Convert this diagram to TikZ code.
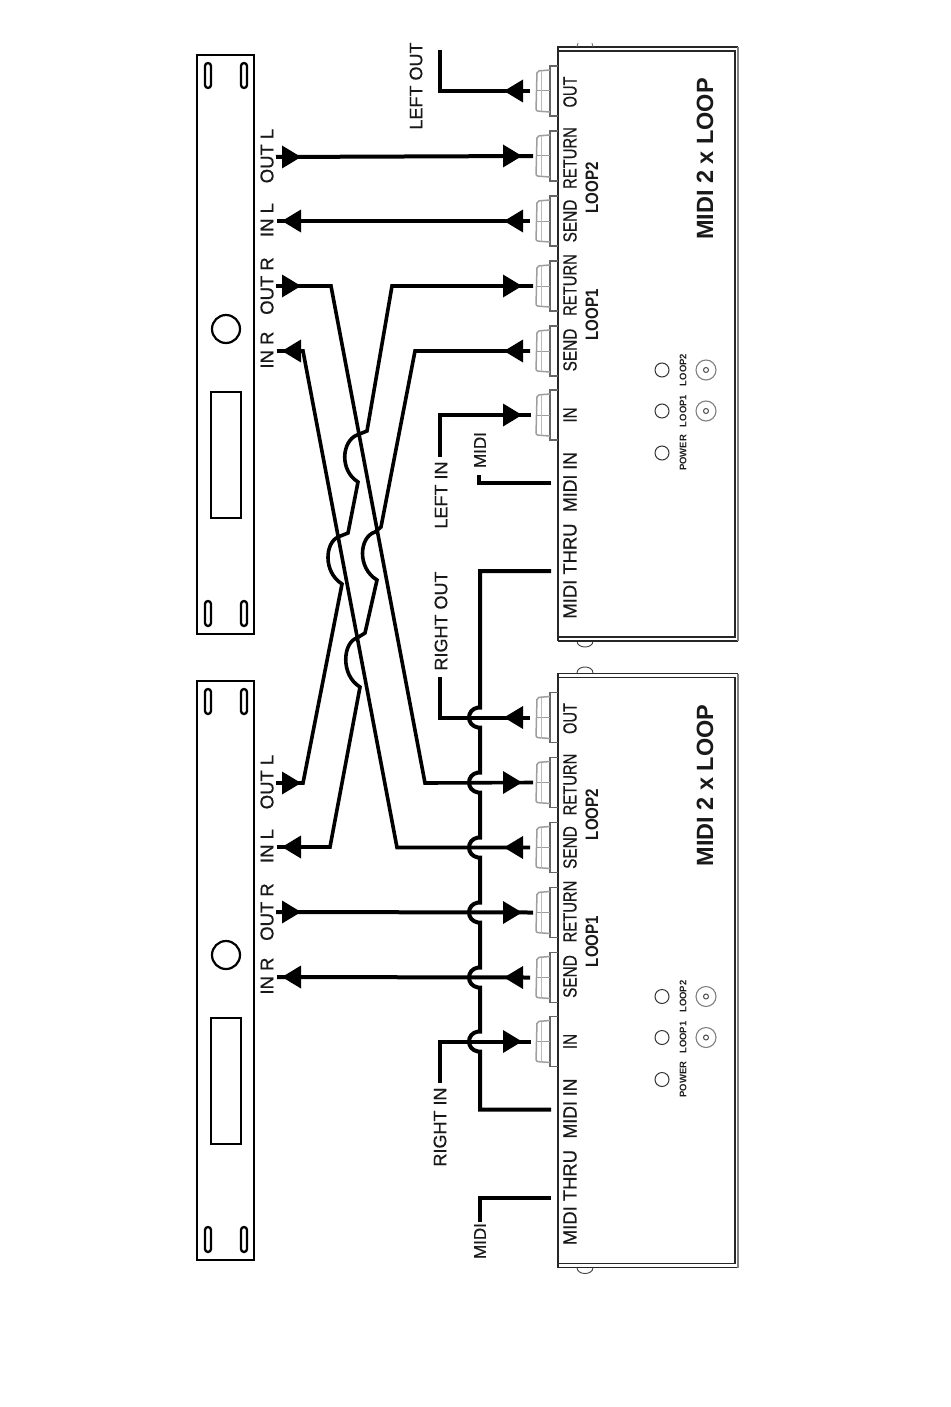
\documentclass[tikz,border=0pt]{standalone}
\usepackage{fontspec}
\usepackage{graphicx}
\setmainfont{Liberation Sans}
\newfontfamily\semib[FakeBold=0.6]{Liberation Sans}
\usetikzlibrary{calc}
\newcommand{\fs}[1]{\fontsize{#1}{#1}\selectfont}
\newcommand{\sx}[2]{\scalebox{#1}[1]{#2}}
\definecolor{jackgray}{gray}{0.4}
\definecolor{jacklight}{gray}{0.62}
\tikzset{
  wire/.style={line width=4pt,line join=miter,line cap=butt,black},
  lbl/.style={rotate=90,inner sep=0pt,anchor=center,text=black!90},
  panel/.style={font=\semib\fs{19}},
  rackbold/.style={font=\semib\fs{18.5}},
  extl/.style={font=\semib\fs{18}},
  tinyl/.style={font=\bfseries\fs{9.5}},
  tipleft/.pic={\fill[black] (-1,0)--(18,11.5)--(18,-11.5)--cycle;},
  tipright/.pic={\fill[black] (19,0)--(0,11.5)--(0,-11.5)--cycle;},
}
\newcommand{\jack}[2]{%
  \draw[jackgray,line width=1.3pt] (558,#1-25) -- (550,#1-25) -- (550,#1+25) -- (558,#1+25);
  \draw[jacklight,line width=1.5pt,rounded corners=2pt] (550,#1-21) -- (537,#1-20) -- (536,#1+20) -- (550,#1+21);
  \draw[jacklight,line width=1pt] (536,#1) -- (550,#1);
  \draw[jacklight!70,line width=1pt] (541,#1-20) -- (541,#1+20);
  \coordinate (#2) at (533,#1);
}
\newcommand{\device}[2]{%
 \begin{scope}[yshift=-#2pt]
  % bottom foot
  \draw[black!75,line width=.9pt] (577,641) .. controls (577,649) and (593,649) .. (593,641);
  % case
  \draw[black!85,line width=1.2pt] (558,641) -- (558,47) -- (738,47);
  \draw[black!85,line width=1.1pt] (558,51) -- (735,51) -- (735,637) -- (558,637);
  \draw[black!85,line width=1.1pt] (558,641) -- (738,641);
  \draw[black!50,line width=1.4pt] (738,47) -- (738,641);
  \jack{91}{#1oJ}\jack{156}{#1rbJ}\jack{221}{#1sbJ}\jack{286}{#1raJ}\jack{351}{#1saJ}\jack{415}{#1iJ}
  \coordinate (#1midiin) at (551,483);
  \coordinate (#1midithru) at (551,571);
  \node[lbl,panel] (#1t1) at (570,92) {\sx{.77}{OUT}};
  \node[lbl,panel] (#1t2) at (570,158) {\sx{.78}{RETURN}};
  \node[lbl,panel] (#1t3) at (570,221) {\sx{.81}{SEND}};
  \node[lbl,panel] (#1t4) at (570,285) {\sx{.78}{RETURN}};
  \node[lbl,panel] (#1t5) at (570,350) {\sx{.81}{SEND}};
  \node[lbl,panel] (#1t6) at (570,415) {\sx{.8}{IN}};
  \node[lbl,panel] (#1t7) at (570,482) {\sx{.93}{MIDI IN}};
  \node[lbl,panel] (#1t8) at (570,571) {\sx{.97}{MIDI THRU}};
  \node[lbl,font=\bfseries\fs{18}] (#1t9) at (592,188) {\sx{.84}{LOOP2}};
  \node[lbl,font=\bfseries\fs{18}] (#1t10) at (592,315) {\sx{.84}{LOOP1}};
  \node[lbl,font=\bfseries\fs{23.5}] (#1title) at (705,159) {MIDI 2 x LOOP};
  \draw[black!80,line width=1pt] (662,370) circle (7) (662,411) circle (7) (662,453) circle (7);
  \draw[black!50,line width=1.1pt] (706,370) circle (10) (706,411) circle (10);
  \draw[black!70,line width=1pt] (706,370) circle (2.5) (706,411) circle (2.5);
  \node[lbl,tinyl] (#1p1) at (683,370) {LOOP2};
  \node[lbl,tinyl] (#1p2) at (683,411) {LOOP1};
  \node[lbl,tinyl] (#1p3) at (683,453) {POWER};
  \pic at (505,91) {tipleft};
  \pic at (503,156) {tipright};
  \pic at (505,221) {tipleft};
  \pic at (503,286) {tipright};
  \pic at (505,351) {tipleft};
  \pic at (503,415) {tipright};
 \end{scope}}
\newcommand{\rack}[2]{%
 \begin{scope}[yshift=-#2pt]
  \draw[black,line width=2.8pt] (197,55) rectangle (254,634);
  \foreach \xx in {208,244}{\foreach \yy in {63,601}{
    \draw[black,line width=2.3pt,rounded corners=3pt] (\xx-3,\yy) rectangle (\xx+3,\yy+25);}}
  \draw[black,line width=2.2pt] (226,329) circle (14);
  \draw[black,line width=2.2pt] (211,392) rectangle (241,518);
  \coordinate (#1oL) at (276,157);
  \coordinate (#1iL) at (277,221);
  \coordinate (#1oR) at (276,286);
  \coordinate (#1iR) at (277,351);
  \node[lbl,rackbold] (#1a) at (267,156) {OUT L};
  \node[lbl,rackbold] (#1b) at (267,220) {IN L};
  \node[lbl,rackbold] (#1c) at (267,286) {OUT R};
  \node[lbl,rackbold] (#1d) at (267,350) {IN R};
  \pic at (282,157) {tipright};
  \pic at (283,221) {tipleft};
  \pic at (282,286) {tipright};
  \pic at (283,351) {tipleft};
 \end{scope}}
\newcommand{\bh}[1]{-- (480,#1-10) -- (478,#1-10) .. controls (466,#1-8) and (466,#1+8) .. (478,#1+10) -- (480,#1+10)}
\begin{document}
\begin{tikzpicture}[x=1pt,y=-1pt]
\useasboundingbox (0,0) rectangle (950,1407);
\fill[white] (0,0) rectangle (950,1407);
\rack{r1}{0}
\rack{r2}{626}
\device{a}{0}
\device{b}{626.5}
% upper feet
\draw[black!60,line width=.8pt] (577,47) -- (578,43) (593,47) -- (592,43);
\draw[black!75,line width=.9pt] (577,673) .. controls (577,665) and (593,665) .. (593,673);
% external labels
\node[lbl,extl] (lo) at (416,86) {LEFT OUT};
\node[lbl,extl] (li) at (441,495) {LEFT IN};
\node[lbl,extl] (ro) at (441,621) {RIGHT OUT};
\node[lbl,extl] (ri) at (440,1127) {RIGHT IN};
\node[lbl,font=\semib\fs{17}] (m1) at (480,450) {MIDI};
\node[lbl,font=\semib\fs{17}] (m2) at (480,1241) {MIDI};
\coordinate (loE) at (440,50);
\coordinate (liE) at (440,457);
\coordinate (roE) at (440,677);
\coordinate (riE) at (440,1083);
\coordinate (m1E) at (479,475);
\coordinate (m2E) at (480,1222);
% top device wiring
\draw[wire] (aoJ) ++(-3,0) -| (loE);
\draw[wire] (r1oL) -- (arbJ);
\draw[wire] (r1iL) -- ($(asbJ)+(-3,0)$);
\draw[wire] (aiJ) ++(-2,0) -| (liE);
\draw[wire] (amidiin) -| (m1E);
% crossings
\draw[wire,line width=3.6pt] (r1oR) -- (331,286) -- (425,783) -- (brbJ);
\draw[wire,line width=3.6pt] (r1iR) -- (303,351) -- (397,847.5) -- ($(bsbJ)+(-3,0)$);
\draw[wire,line width=3.6pt] (araJ) -- (392,286) -- (367,431) -- (357,435)
  .. controls (342,441) and (339,470) .. (358,482) -- (348,533) -- (338,537)
  .. controls (325,543) and (323,572) .. (342,584) -- (303,783) -- (r2oL);
\draw[wire,line width=3.6pt] ($(asaJ)+(-3,0)$) -- (415,351) -- (381,527) -- (375,532)
  .. controls (359,537) and (357,568) .. (377,580) -- (365,633) -- (357,638)
  .. controls (343,642) and (340,675) .. (360,687) -- (330,847) -- (r2iL);
% straight rack 2 to device 2
\draw[wire] (r2oR) -- (braJ);
\draw[wire] (r2iR) -- ($(bsaJ)+(-3,0)$);
\draw[wire] ($(boJ)+(-3,0)$) -| (roE);
\draw[wire] ($(biJ)+(-2,0)$) -| (riE);
% MIDI bus
\draw[wire] (amidithru) -- (480,571) \bh{717.5} \bh{782.5} \bh{847.5} \bh{912.5} \bh{977.5} \bh{1041.5} -- (480,1109.5) -- (bmidiin);
\draw[wire] (bmidithru) -| (m2E);
\end{tikzpicture}
\end{document}
